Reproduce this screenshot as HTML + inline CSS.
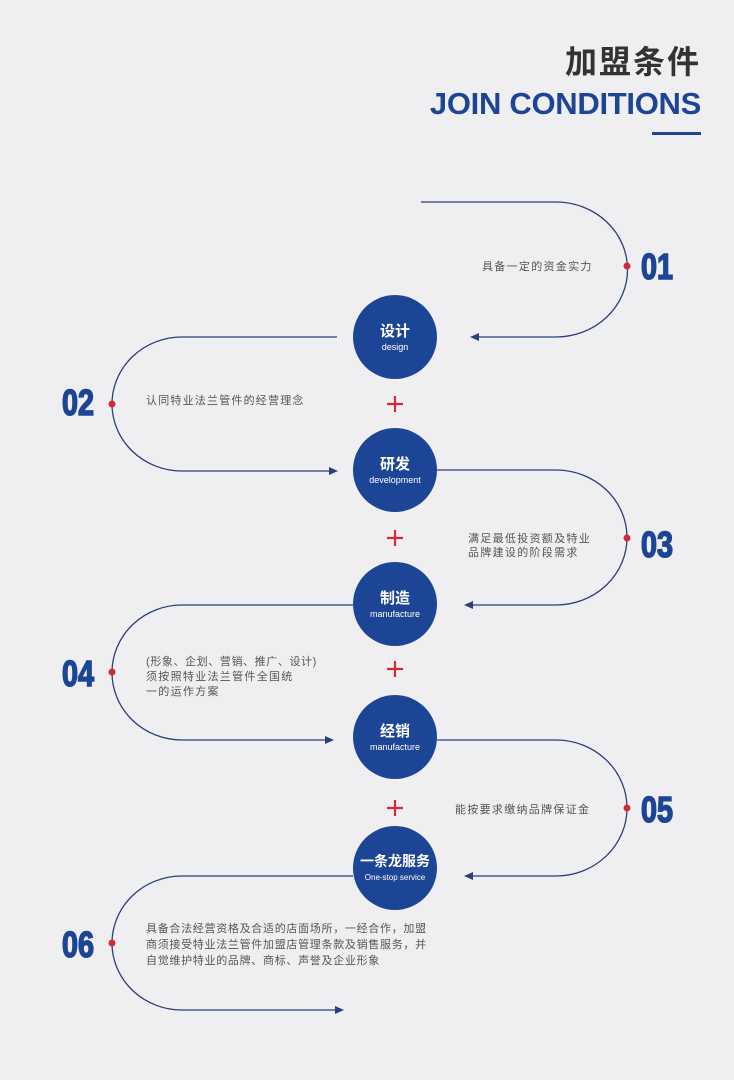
<!DOCTYPE html>
<html><head><meta charset="utf-8"><style>
html,body{margin:0;padding:0;background:#efeff1;}
svg{display:block}
text{font-family:"Liberation Sans","Noto Sans CJK SC",sans-serif;}
</style></head><body>
<svg width="734" height="1080" viewBox="0 0 734 1080" xmlns="http://www.w3.org/2000/svg">
<rect width="734" height="1080" fill="#efeff1"/>
<text x="701" y="73" text-anchor="end" font-size="32" font-weight="bold" fill="#333" letter-spacing="2">加盟条件</text>
<text x="701" y="114" text-anchor="end" font-size="31" font-weight="bold" fill="#1c4595" letter-spacing="-0.3">JOIN CONDITIONS</text>
<rect x="652" y="132" width="49" height="3" fill="#1c4595"/>
<g fill="none" stroke="#2b3f78" stroke-width="1.3">
<path d="M421 202 H556 A71 67 0 0 1 556 337 H474"/>
<path d="M337 337 H182 A70 67 0 0 0 182 471 H334"/>
<path d="M437 470 H556 A71 67.5 0 0 1 556 605 H468"/>
<path d="M353 605 H182 A70 67.5 0 0 0 182 740 H330"/>
<path d="M437 740 H556 A71 68 0 0 1 556 876 H468"/>
<path d="M353 876 H182 A70 67 0 0 0 182 1010 H340"/>
</g>
<g fill="#2b3f78">
<path d="M470 337 l9 -4 v8 z"/>
<path d="M338 471 l-9 -4 v8 z"/>
<path d="M464 605 l9 -4 v8 z"/>
<path d="M334 740 l-9 -4 v8 z"/>
<path d="M464 876 l9 -4 v8 z"/>
<path d="M344 1010 l-9 -4 v8 z"/>
</g>
<g fill="#d42a36">
<circle cx="627" cy="266" r="3.5"/><circle cx="112" cy="404" r="3.5"/>
<circle cx="627" cy="538" r="3.5"/><circle cx="112" cy="672" r="3.5"/>
<circle cx="627" cy="808" r="3.5"/><circle cx="112" cy="943" r="3.5"/>
</g>
<g font-size="36" font-weight="bold" fill="#1c4595" stroke="#1c4595" stroke-width="1.6">
<text transform="translate(641 279) scale(0.8 1)">01</text>
<text transform="translate(62 415) scale(0.8 1)">02</text>
<text transform="translate(641 557) scale(0.8 1)">03</text>
<text transform="translate(62 686) scale(0.8 1)">04</text>
<text transform="translate(641 822) scale(0.8 1)">05</text>
<text transform="translate(62 957) scale(0.8 1)">06</text>
</g>
<g font-size="11" fill="#555">
<text x="482" y="270" letter-spacing="1.3">具备一定的资金实力</text>
<text x="146" y="404" letter-spacing="1.2">认同特业法兰管件的经营理念</text>
<text x="468" y="542" letter-spacing="1.3">满足最低投资额及特业</text>
<text x="468" y="556" letter-spacing="1.3">品牌建设的阶段需求</text>
<text x="146" y="665" letter-spacing="0.6">(形象、企划、营销、推广、设计)</text>
<text x="146" y="680" letter-spacing="1.3">须按照特业法兰管件全国统</text>
<text x="146" y="695" letter-spacing="1.3">一的运作方案</text>
<text x="455" y="813" letter-spacing="1.3">能按要求缴纳品牌保证金</text>
<text x="146" y="932" letter-spacing="0.7">具备合法经营资格及合适的店面场所，一经合作，加盟</text>
<text x="146" y="948" letter-spacing="0.7">商须接受特业法兰管件加盟店管理条款及销售服务，并</text>
<text x="146" y="964" letter-spacing="0.7">自觉维护特业的品牌、商标、声誉及企业形象</text>
</g>
<g fill="#1c4595">
<circle cx="395" cy="337" r="42"/><circle cx="395" cy="470" r="42"/>
<circle cx="395" cy="604" r="42"/><circle cx="395" cy="737" r="42"/>
<circle cx="395" cy="868" r="42"/>
</g>
<g fill="#fff" text-anchor="middle">
<text x="395" y="336" font-size="15" font-weight="bold">设计</text>
<text x="395" y="350" font-size="9">design</text>
<text x="395" y="469" font-size="15" font-weight="bold">研发</text>
<text x="395" y="483" font-size="9">development</text>
<text x="395" y="603" font-size="15" font-weight="bold">制造</text>
<text x="395" y="617" font-size="9">manufacture</text>
<text x="395" y="736" font-size="15" font-weight="bold">经销</text>
<text x="395" y="750" font-size="9">manufacture</text>
<text x="395" y="866" font-size="14" font-weight="bold">一条龙服务</text>
<text x="395" y="880" font-size="8">One-stop service</text>
</g>
<g stroke="#d42a36" stroke-width="2.2">
<path d="M387 404 h16 M395 396 v16"/>
<path d="M387 538 h16 M395 530 v16"/>
<path d="M387 669 h16 M395 661 v16"/>
<path d="M387 808 h16 M395 800 v16"/>
</g>
</svg>
</body></html>
